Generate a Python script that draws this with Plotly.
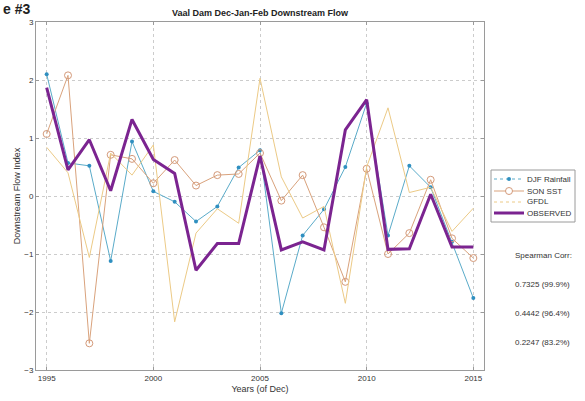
import plotly.graph_objects as go

years = list(range(1995, 2016))

djf_rainfall = [2.10, 0.57, 0.52, -1.12, 0.94, 0.08, -0.10, -0.44, -0.18, 0.49, 0.79,
                -2.02, -0.68, -0.23, 0.50, 1.60, -0.68, 0.52, 0.15, -0.79, -1.76]
son_sst = [1.07, 2.08, -2.54, 0.71, 0.64, 0.22, 0.62, 0.18, 0.36, 0.38, 0.74,
           -0.08, 0.36, -0.54, -1.48, 0.47, -1.00, -0.64, 0.28, -0.73, -1.07]
gfdl = [0.84, 0.40, -1.06, 0.74, 0.36, 0.88, -2.17, -0.64, -0.22, -0.47, 2.03,
        0.33, -0.38, -0.18, -1.85, 0.50, 1.52, 0.06, 0.15, -0.61, -0.21]
observed = [1.87, 0.45, 0.97, 0.09, 1.32, 0.63, 0.39, -1.28, -0.82, -0.82, 0.69,
            -0.93, -0.79, -0.93, 1.14, 1.66, -0.92, -0.91, 0.03, -0.88, -0.88]

series_names = ['DJF Rainfall', 'SON SST', 'GFDL', 'OBSERVED']
corr_labels = ['Spearman Corr:', '0.7325 (99.9%)', '0.4442 (96.4%)', '0.2247 (83.2%)']

# plot box in pixels (used to place the hand-made legend)
L, R, T, B = 36, 484, 22, 370
W, H = R - L, B - T


def px(x):
    return (x - L) / W


def py(y):
    return (B - y) / H


blue = '#5aabc9'
blue_dot = '#2f8fc0'
tan = '#d9a27c'
tan_mk = '#d49a7a'
yellow = '#ecca86'
purple = '#7b2490'

fig = go.Figure()
fig.add_trace(go.Scatter(x=years, y=djf_rainfall, name=series_names[0], mode='lines+markers',
                         line=dict(color=blue, width=1),
                         marker=dict(symbol='circle', size=4, color=blue_dot)))
fig.add_trace(go.Scatter(x=years, y=son_sst, name=series_names[1], mode='lines+markers',
                         line=dict(color=tan, width=1),
                         marker=dict(symbol='circle-open', size=7, color=tan_mk,
                                     line=dict(width=1))))
fig.add_trace(go.Scatter(x=years, y=gfdl, name=series_names[2], mode='lines',
                         line=dict(color=yellow, width=1)))
fig.add_trace(go.Scatter(x=years, y=observed, name=series_names[3], mode='lines',
                         line=dict(color=purple, width=3)))

axis_common = dict(showline=True, linecolor='#9a9a9a', linewidth=1, mirror='ticks',
                   ticks='inside', ticklen=3, tickcolor='#9a9a9a',
                   showgrid=True, gridcolor='#cccccc', griddash='dot', gridwidth=1,
                   zeroline=False, automargin=False, tickfont=dict(size=8, color='#333333'))

fig.update_xaxes(range=[1994.5, 2015.5], tickvals=[1995, 2000, 2005, 2010, 2015],
                 title=dict(text='Years (of Dec)', font=dict(size=9, color='#333333'), standoff=4),
                 **axis_common)
fig.update_yaxes(range=[-3, 3], dtick=1,
                 title=dict(text='Downstream Flow Index', font=dict(size=9, color='#333333'), standoff=2),
                 **axis_common)

annotations = [
    dict(text='<b>Vaal Dam Dec-Jan-Feb Downstream Flow</b>', x=0.5, y=py(13), xref='paper', yref='paper',
         xanchor='center', yanchor='middle', showarrow=False, font=dict(size=9, color='#222222')),
    dict(text='<b>e #3</b>', x=px(1), y=py(9), xref='paper', yref='paper', xanchor='left',
         yanchor='middle', showarrow=False, font=dict(size=14, color='#222222')),
]
corr_y = [255, 284, 313, 342]
for label, yy in zip(corr_labels, corr_y):
    annotations.append(dict(text=label, x=px(513), y=py(yy), xref='paper', yref='paper',
                            xanchor='left', yanchor='middle', showarrow=False,
                            font=dict(size=8, color='#333333')))

# hand-made legend (plotly's own legend rows are too tall here)
shapes = [dict(type='rect', xref='paper', yref='paper', x0=px(491), x1=px(575), y0=py(222), y1=py(170),
               line=dict(color='#9a9a9a', width=1), fillcolor='white', layer='above')]
legend_rows = [179, 191, 202, 213]
legend_styles = [(blue, 1, 'dot'), (tan, 1, 'solid'), (yellow, 1, 'dot'), (purple, 3, 'solid')]
for name, row, (col, lw, dash) in zip(series_names, legend_rows, legend_styles):
    shapes.append(dict(type='line', xref='paper', yref='paper', x0=px(494), x1=px(524),
                       y0=py(row), y1=py(row), line=dict(color=col, width=lw, dash=dash), layer='above'))
    annotations.append(dict(text=name, x=px(525), y=py(row), xref='paper', yref='paper',
                            xanchor='left', yanchor='middle', showarrow=False,
                            font=dict(size=8, color='#333333')))
shapes.append(dict(type='circle', xref='paper', yref='paper', xsizemode='pixel', ysizemode='pixel',
                   xanchor=px(509), yanchor=py(legend_rows[0]), x0=-2, x1=2, y0=-2, y1=2,
                   fillcolor=blue_dot, line=dict(color=blue_dot, width=0), layer='above'))
shapes.append(dict(type='circle', xref='paper', yref='paper', xsizemode='pixel', ysizemode='pixel',
                   xanchor=px(509), yanchor=py(legend_rows[1]), x0=-3.5, x1=3.5, y0=-3.5, y1=3.5,
                   fillcolor='white', line=dict(color=tan_mk, width=1), layer='above'))

fig.update_layout(
    width=585, height=401,
    margin=dict(l=L, r=585 - R, t=T, b=401 - B),
    plot_bgcolor='white', paper_bgcolor='white',
    font=dict(family='Arial, Liberation Sans', size=8, color='#333333'),
    showlegend=False,
    annotations=annotations,
    shapes=shapes,
)

# drop the browser's default page margin so the figure sits at the window corner
fig.write_html('out.html', config={'displayModeBar': False},
               post_script="document.body.style.margin='0';document.body.style.overflow='hidden';")
